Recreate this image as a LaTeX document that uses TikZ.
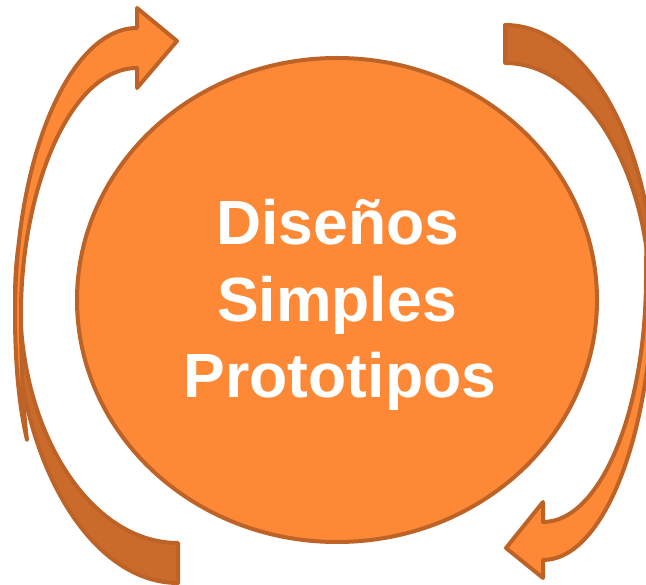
\documentclass[tikz,border=0pt]{standalone}
\usepackage{fontspec}
\setmainfont{Liberation Sans}
\usetikzlibrary{shapes.geometric}
\definecolor{orfill}{RGB}{253,137,54}
\definecolor{orline}{RGB}{190,99,39}
\definecolor{orback}{RGB}{202,107,44}
\tikzset{
  frontpart/.style={fill=orfill, draw=orline, line width=4pt, line join=round},
  backpart/.style={fill=orback, draw=orline, line width=4pt, line join=round},
  label/.style={text=white, font=\fontsize{62.5}{76}\selectfont\bfseries, anchor=base, inner sep=0pt}
}
\begin{document}
\begin{tikzpicture}[x=1pt,y=1pt]
\useasboundingbox (0,0) rectangle (646,-585);
\clip (0,0) rectangle (646,-585);
% left arrow: back part
\path[backpart] (178,-583) .. controls (88,-583) and (15,-456) .. (15,-300)
  .. controls (15,-280) and (16,-265) .. (18,-250)
  .. controls (20,-270) and (20,-285) .. (20,-300)
  .. controls (20,-434) and (91,-543) .. (178,-543) -- cycle;
% left arrow: front part
\path[frontpart] (137,-28) -- (137,-8) -- (177,-41) -- (137,-88) -- (137,-68)
  .. controls (70,-68) and (21,-190) .. (21,-313)
  .. controls (21,-350) and (22,-400) .. (27,-440)
  .. controls (20,-410) and (15,-370) .. (15,-313)
  .. controls (15,-156) and (70,-28) .. (137,-28) -- cycle;
% right arrow: back part
\path[backpart] (505,-25) .. controls (588,-25) and (655,-148) .. (655,-300)
  -- (650,-300)
  .. controls (650,-169) and (583,-63) .. (505,-63) -- cycle;
% right arrow: front part
\path[frontpart] (543,-560) -- (543,-578) -- (506,-548) -- (543,-502) -- (543,-522)
  .. controls (600,-522) and (646,-412) .. (646,-277)
  .. controls (646,-255) and (647,-230) .. (648,-200)
  .. controls (651,-220) and (653,-240) .. (653,-277)
  .. controls (653,-433) and (604,-560) .. (543,-560) -- cycle;
% central ellipse
\node[ellipse, fill=orfill, draw=orline, line width=4pt, minimum width=520pt, minimum height=484pt, inner sep=0pt] (core) at (337,-300) {};
\node[label] (l1) at (338,-245) {Diseños};
\node[label] (l2) at (337,-322) {Simples};
\node[label] (l3) at (340,-398) {Prototipos};
\end{tikzpicture}
\end{document}
